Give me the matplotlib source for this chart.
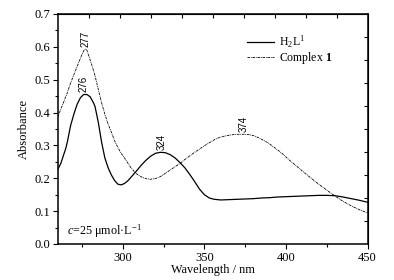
import numpy as np
import matplotlib
matplotlib.use("Agg")
import matplotlib.pyplot as plt

plt.rcParams['font.family'] = ['Liberation Serif', 'DejaVu Serif']
plt.rcParams['mathtext.fontset'] = 'custom'
plt.rcParams['mathtext.rm'] = 'Liberation Serif'
plt.rcParams['mathtext.it'] = 'Liberation Serif:italic'
plt.rcParams['mathtext.bf'] = 'Liberation Serif:bold'

# H2L1 (solid)
wl_ligand = [260, 262, 264, 265, 266, 268, 270, 272, 274, 276, 278, 280, 282, 283,
             285, 287, 289, 291, 293, 295, 297, 299, 301, 303, 305, 308, 311, 314,
             317, 320, 323, 326, 329, 332, 335, 338, 341, 344, 347, 350, 353, 356,
             360, 365, 370, 375, 380, 385, 390, 395, 400, 405, 410, 415, 420, 425,
             430, 435, 440, 445, 450]
abs_ligand = [0.225, 0.245, 0.275, 0.290, 0.310, 0.360, 0.395, 0.425, 0.445, 0.455,
              0.455, 0.448, 0.430, 0.418, 0.370, 0.310, 0.262, 0.232, 0.210, 0.193,
              0.182, 0.180, 0.184, 0.192, 0.203, 0.220, 0.238, 0.254, 0.267, 0.276,
              0.279, 0.278, 0.272, 0.262, 0.248, 0.232, 0.212, 0.190, 0.167, 0.150,
              0.140, 0.136, 0.134, 0.135, 0.136, 0.137, 0.138, 0.140, 0.141, 0.143,
              0.144, 0.145, 0.146, 0.147, 0.148, 0.148, 0.147, 0.143, 0.138, 0.133,
              0.127]

# Complex 1 (dash-dot)
wl_complex = [260, 262, 264, 266, 268, 270, 272, 274, 276, 277, 278, 279, 281, 283,
              285, 287, 289, 291, 293, 295, 297, 299, 301, 303, 305, 308, 311, 314,
              317, 320, 323, 326, 329, 332, 335, 338, 341, 344, 347, 350, 353, 356,
              359, 362, 365, 368, 371, 374, 377, 380, 383, 386, 389, 392, 395, 398,
              401, 404, 407, 410, 413, 416, 419, 422, 425, 428, 431, 434, 437, 440,
              443, 446, 450]
abs_complex = [0.385, 0.410, 0.435, 0.460, 0.490, 0.515, 0.540, 0.565, 0.588, 0.593,
               0.590, 0.575, 0.545, 0.512, 0.470, 0.430, 0.395, 0.365, 0.340, 0.314,
               0.293, 0.276, 0.262, 0.247, 0.232, 0.215, 0.205, 0.199, 0.197, 0.199,
               0.205, 0.215, 0.225, 0.235, 0.245, 0.257, 0.268, 0.279, 0.289, 0.299,
               0.308, 0.317, 0.324, 0.328, 0.331, 0.333, 0.334, 0.334, 0.333, 0.330,
               0.324, 0.316, 0.308, 0.297, 0.286, 0.274, 0.260, 0.247, 0.235, 0.222,
               0.210, 0.198, 0.186, 0.175, 0.164, 0.153, 0.143, 0.133, 0.124, 0.116,
               0.109, 0.102, 0.095]

peak_x = [277, 276, 324, 374]
peak_y = [0.593, 0.455, 0.279, 0.334]
peak_labels = ['277', '276', '324', '374']

fig = plt.figure(figsize=(3.94, 2.80), dpi=100)
ax = fig.add_axes([0.146, 0.1286, 0.787, 0.8214])

ax.plot(wl_ligand, abs_ligand, color='black', lw=0.9, label='H$_2$L$^1$')
ax.plot(wl_complex, abs_complex, color='black', lw=0.6,
        linestyle=(0, (3, 1, 1, 1)), label='Complex $\\mathbf{1}$')

for px, py, lab in zip(peak_x, peak_y, peak_labels):
    ax.annotate(lab, (px, py), xytext=(0, 1.5), textcoords='offset points',
                rotation=90, ha='center', va='bottom', fontsize=7,
                family='Liberation Sans')

ax.set_xlim(260, 450)
ax.set_ylim(0, 0.7)
ax.set_xticks([300, 350, 400, 450])
ax.set_xticks([275, 325, 375, 425], minor=True)
ax.set_yticks(np.arange(0, 0.71, 0.1))
ax.set_yticks(np.arange(0.05, 0.7, 0.1), minor=True)
ax.set_yticklabels([f'{v:.1f}' for v in np.arange(0, 0.71, 0.1)])
ax.tick_params(axis='both', which='major', direction='out', length=3.5, width=0.8,
               labelsize=9, pad=2)
ax.tick_params(axis='both', which='minor', direction='out', length=2, width=0.8)
for s in ax.spines.values():
    s.set_linewidth(1.1)

# mirror axes with inward ticks (10 equal intervals)
axt = ax.secondary_xaxis('top')
axt.set_xticks(np.linspace(260, 450, 11)[1:-1])
axt.tick_params(direction='in', length=3, width=0.8, labeltop=False)
axr = ax.secondary_yaxis('right')
axr.set_yticks(np.linspace(0, 0.7, 11)[1:-1])
axr.tick_params(direction='in', length=3, width=0.8, labelright=False)

ax.set_xlabel('Wavelength / nm', fontsize=8.8, labelpad=0.5)
ax.set_ylabel('Absorbance', fontsize=9, labelpad=3)

ax.text(0.032, 0.04, '$c$=25 μmol·L$^{-1}$', transform=ax.transAxes,
        fontsize=8.7, ha='left', va='baseline')

ax.legend(loc='upper left', bbox_to_anchor=(0.61, 0.915), frameon=False,
          fontsize=8.5, handlelength=2.3, handletextpad=0.45, labelspacing=0.02,
          borderpad=0, borderaxespad=0)

fig.savefig('out.png', dpi=100)
